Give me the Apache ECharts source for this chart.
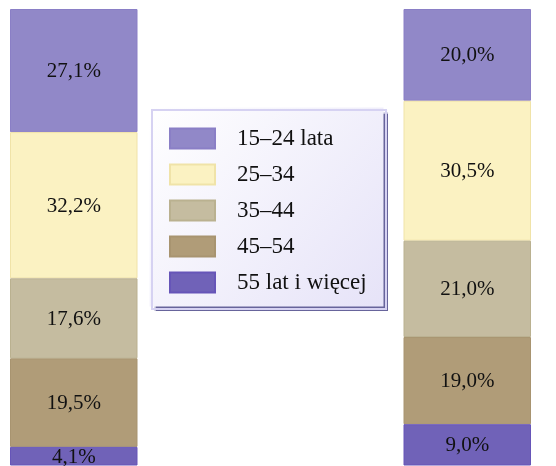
<!DOCTYPE html>
<html>
<head>
<meta charset="utf-8">
<script src="https://cdn.jsdelivr.net/npm/echarts@6/dist/echarts.min.js"></script>
<style>html,body{margin:0;padding:0;background:#fff}#c{width:556px;height:466px}</style>
</head>
<body>
<div id="c"></div>
<script>
const groups = ['15–24 lata', '25–34', '35–44', '45–54', '55 lat i więcej'];
const leftValues = [27.1, 32.2, 17.6, 19.5, 4.1];
const rightValues = [20.0, 30.5, 21.0, 19.0, 9.0];

const fills = ['#9188c8', '#fbf2c2', '#c5bca0', '#b09c78', '#7062b8'];
const borders = ['#8a7fc6', '#f0e3a8', '#bab190', '#a89470', '#6655b8'];

const chart = echarts.init(document.getElementById('c'), null, {renderer: 'canvas'});
const fmt = p => p.value.toFixed(1).replace('.', ',') + '%';

const series = [];
[leftValues, rightValues].forEach((vals, gi) => {
  groups.forEach((g, i) => {
    series.push({
      name: g,
      type: 'bar',
      stack: 's' + gi,
      xAxisIndex: gi,
      yAxisIndex: gi,
      barWidth: '100%',
      data: [vals[i]],
      itemStyle: {color: fills[i], borderColor: borders[i], borderWidth: 1},
      label: {
        show: true, position: 'inside', formatter: fmt, offset: [0, 1],
        fontFamily: 'Liberation Serif', fontSize: 21, color: '#111'
      },
      emphasis: {disabled: true},
      animation: false
    });
  });
});

chart.setOption({
  backgroundColor: '#ffffff',
  animation: false,
  grid: [
    {left: 10, top: 9, width: 127.5, bottom: 0.5},
    {left: 403.5, top: 9, width: 127.5, bottom: 0.5}
  ],
  xAxis: [0, 1].map(i => ({type: 'category', gridIndex: i, data: [''], show: false})),
  yAxis: [0, 1].map(i => ({
    type: 'value', gridIndex: i, inverse: true, min: 0,
    max: v => v.max, show: false
  })),
  legend: {
    data: groups,
    orient: 'vertical',
    left: 149, top: 107,
    padding: [20, 15, 13, 20],
    icon: 'rect',
    itemWidth: 45, itemHeight: 20, itemGap: 13,
    selectedMode: false,
    textStyle: {fontFamily: 'Liberation Serif', fontSize: 23, color: '#111', padding: [0, 0, 0, 17]},
    backgroundColor: 'transparent',
    borderWidth: 0,
    z: 10
  },
  graphic: [{
    type: 'rect', left: 149.5, top: 107.5, z: 1, silent: true,
    shape: {width: 234, height: 199},
    style: {
      fill: new echarts.graphic.LinearGradient(0, 0, 1, 1, [
        {offset: 0, color: '#ffffff'}, {offset: 1, color: '#e6e3f8'}
      ]),
      shadowColor: 'rgba(95,92,150,0.95)', shadowOffsetX: 4, shadowOffsetY: 4, shadowBlur: 1
    }
  }, {
    type: 'rect', left: 149.5, top: 107.5, z: 2, silent: true,
    shape: {width: 234, height: 199},
    style: {fill: 'none', stroke: '#d6d2f2', lineWidth: 2}
  }],
  series: series
});
</script>
</body>
</html>
